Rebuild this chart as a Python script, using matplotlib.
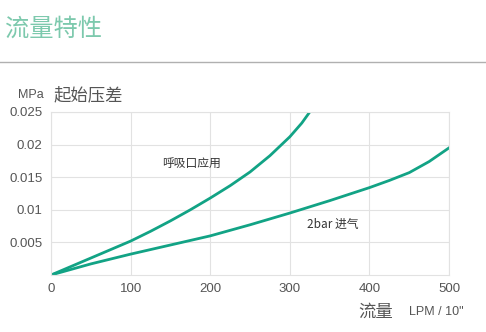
import matplotlib.pyplot as plt

plt.rcParams['font.family'] = ['Noto Sans CJK SC', 'DejaVu Sans']

# 呼吸口应用
flow_a = [0, 25, 50, 75, 100, 125, 150, 175, 200, 225, 250, 275, 300, 315, 325]
dp_a = [0, 0.0013, 0.0026, 0.0039, 0.0052, 0.0067, 0.0083, 0.0100, 0.0118,
        0.0137, 0.0158, 0.0183, 0.0212, 0.0233, 0.025]
# 2bar 进气
flow_b = [0, 50, 100, 150, 200, 250, 300, 350, 400, 425, 450, 475, 500]
dp_b = [0, 0.0017, 0.0032, 0.0046, 0.0060, 0.0077, 0.0095, 0.0114, 0.0134,
        0.0145, 0.0157, 0.0174, 0.0195]

xticks = [0, 100, 200, 300, 400, 500]
yticks = [0.005, 0.01, 0.015, 0.02, 0.025]
ylabels = ['0.005', '0.01', '0.015', '0.02', '0.025']

green = '#12a385'
grey = '#555555'

fig = plt.figure(figsize=(4.86, 3.32), dpi=100)
ax = fig.add_axes([0.105, 0.1717, 0.819, 0.491])

ax.plot(flow_a, dp_a, color=green, lw=2)
ax.plot(flow_b, dp_b, color=green, lw=2)

ax.set_xlim(0, 500)
ax.set_ylim(0, 0.025)
ax.set_xticks(xticks)
ax.set_yticks(yticks)
ax.set_yticklabels(ylabels)
ax.tick_params(length=0, colors=grey, labelsize=9.5, pad=6)
for lab in ax.get_xticklabels() + ax.get_yticklabels():
    lab.set_family('Liberation Sans')
ax.grid(color='#e2e2e2', lw=0.8)
ax.set_axisbelow(True)
for s in ax.spines.values():
    s.set_color('#e2e2e2')
    s.set_linewidth(0.8)

ax.text(140, 0.0165, '呼吸口应用', fontsize=8.5, color='#333333')
ax.text(322, 0.0072, '2bar 进气', fontsize=8.5, color='#333333')

fig.text(0.01, 0.915, '流量特性', fontsize=17.5, color='#7dc9ad', va='center')
fig.add_artist(plt.Line2D([0, 1], [0.813, 0.813], color='#b0b0b0', lw=1))

fig.text(0.037, 0.714, 'MPa', fontsize=9, color=grey, va='center', family='Liberation Sans')
fig.text(0.11, 0.714, '起始压差', fontsize=12.5, color=grey, va='center')
fig.text(0.738, 0.06, '流量', fontsize=12.5, color=grey, va='center')
fig.text(0.842, 0.06, 'LPM / 10"', fontsize=9, color=grey, va='center', family='Liberation Sans')

fig.savefig('out.png', dpi=100)
